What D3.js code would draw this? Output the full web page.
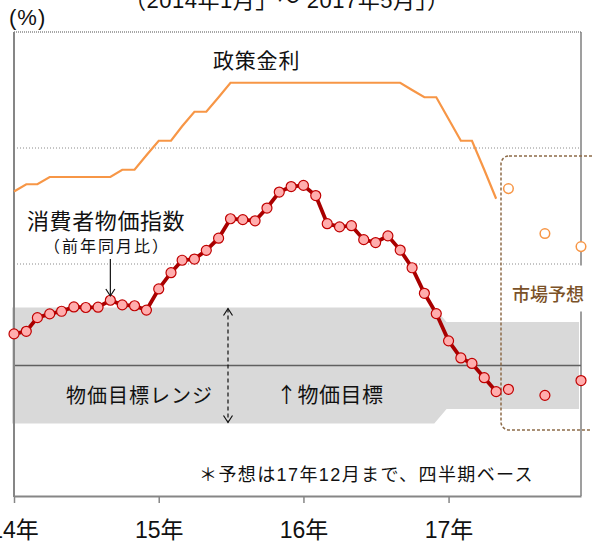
<!DOCTYPE html>
<html>
<head>
<meta charset="utf-8">
<script src="https://cdn.jsdelivr.net/npm/d3@7"></script>
<style>
  body { margin: 0; background: #fff; }
  text { font-family: "Liberation Sans", "Noto Sans CJK JP", sans-serif; fill: #111; }
</style>
</head>
<body>
<svg id="chart" width="592" height="544"></svg>
<script>
// DATA (monthly, 2014-01 .. 2017-05)
const startMonth = new Date(2014, 0, 1);
const cpiValues = [
  5.59, 5.68, 6.15, 6.28, 6.37, 6.52, 6.50, 6.51, 6.75, 6.59, 6.56, 6.41,
  7.14, 7.70, 8.13, 8.17, 8.47, 8.89, 9.56, 9.53, 9.49, 9.93, 10.48, 10.67,
  10.71, 10.36, 9.39, 9.28, 9.32, 8.84, 8.74, 8.97, 8.48, 7.87, 6.99, 6.29,
  5.35, 4.76, 4.57, 4.08, 3.60
];
const rateValues = [
  10.5, 10.75, 10.75, 11.0, 11.0, 11.0, 11.0, 11.0, 11.0, 11.25, 11.25, 11.75,
  12.25, 12.25, 12.75, 13.25, 13.25, 13.75, 14.25, 14.25, 14.25, 14.25, 14.25, 14.25,
  14.25, 14.25, 14.25, 14.25, 14.25, 14.25, 14.25, 14.25, 14.25, 14.0, 13.75, 13.75,
  13.0, 12.25, 12.25, 11.25, 10.25
];
// market forecasts (quarterly, to 2017-12)
const forecastMonths = [new Date(2017, 5, 1), new Date(2017, 8, 1), new Date(2017, 11, 1)];
const cpiForecast = [3.68, 3.47, 3.98];
const rateForecast = [10.6, 9.05, 8.6];
// inflation target and tolerance range
const targetValue = 4.5;
const bandDates = [new Date(2014, 0, 1), new Date(2016, 11, 1), new Date(2017, 0, 1), new Date(2017, 11, 1)];
const bandLow = [2.5, 2.5, 3.0, 3.0];
const bandHigh = [6.5, 6.5, 6.0, 6.0];
const yearTicks = [new Date(2014, 0, 1), new Date(2015, 0, 1), new Date(2016, 0, 1), new Date(2017, 0, 1)];
const yearLabels = ["14年", "15年", "16年", "17年"];
const gridValues = [8, 12];

const months = cpiValues.map((d, i) => d3.timeMonth.offset(startMonth, i));

// SCALES
const svg = d3.select("#chart");
const x = d3.scaleTime()
  .domain([new Date(2014, 0, 1), new Date(2017, 11, 1)])
  .range([14, 581]);
const y = d3.scaleLinear().domain([0, 16]).range([496, 32]);

// GRID
svg.selectAll("line.grid")
  .data(gridValues)
  .enter().append("line")
    .attr("class", "grid")
    .attr("x1", 14).attr("x2", 581)
    .attr("y1", d => y(d)).attr("y2", d => y(d))
    .attr("stroke", "#8a8a8a")
    .attr("stroke-width", 1)
    .attr("stroke-dasharray", "1,2");
svg.append("line")
  .attr("x1", 14).attr("x2", 581)
  .attr("y1", y(16)).attr("y2", y(16))
  .attr("stroke", "#8a8a8a").attr("stroke-width", 1.5)
  .attr("stroke-dasharray", "1,1");
svg.append("line")
  .attr("x1", 581).attr("x2", 581)
  .attr("y1", y(16)).attr("y2", y(0))
  .attr("stroke", "#7f7f7f").attr("stroke-width", 1.5);

// TARGET BAND
const bandData = bandDates.map((d, i) => ({date: d, lo: bandLow[i], hi: bandHigh[i]}));
svg.append("path")
  .datum(bandData)
  .attr("d", d3.area().x(d => x(d.date)).y0(d => y(d.lo)).y1(d => y(d.hi)))
  .attr("transform", "translate(-2,0)")
  .attr("fill", "#d9d9d9");
svg.append("line")
  .attr("x1", 14).attr("x2", 581)
  .attr("y1", y(targetValue)).attr("y2", y(targetValue))
  .attr("stroke", "#606060").attr("stroke-width", 1.5);

// white box behind forecast label
svg.append("rect")
  .attr("x", 508).attr("y", y(8) + 1.5)
  .attr("width", 84).attr("height", 46)
  .attr("fill", "#fff");

// forecast box
svg.append("rect")
  .attr("x", 501).attr("y", 156)
  .attr("width", 130).attr("height", 274)
  .attr("rx", 8)
  .attr("fill", "none")
  .attr("stroke", "#8d6b48")
  .attr("stroke-width", 1.5)
  .attr("stroke-dasharray", "3,2");

// AXES
const xAxis = svg.append("g")
  .attr("transform", `translate(0,${y(0)})`)
  .call(d3.axisBottom(x).tickValues(yearTicks).tickSize(7).tickSizeOuter(0).tickFormat((d, i) => yearLabels[i]));
xAxis.select(".domain").attr("stroke", "#868686").attr("stroke-width", 2);
xAxis.selectAll(".tick line").attr("stroke", "#868686").attr("stroke-width", 1.5);
xAxis.selectAll(".tick text")
  .attr("y", 42)
  .attr("dy", 0)
  .attr("font-size", 23)
  .attr("font-family", "\"Liberation Sans\", \"Noto Sans CJK JP\", sans-serif")
  .attr("fill", "#111");
svg.append("line")
  .attr("x1", 14).attr("x2", 14)
  .attr("y1", y(16)).attr("y2", y(0) + 1)
  .attr("stroke", "#868686").attr("stroke-width", 2);

// POLICY RATE
svg.append("path")
  .datum(rateValues)
  .attr("d", d3.line().x((d, i) => x(months[i])).y(d => y(d)))
  .attr("fill", "none")
  .attr("stroke", "#f79646")
  .attr("stroke-width", 2.2);
svg.selectAll("circle.rf")
  .data(rateForecast)
  .enter().append("circle")
    .attr("class", "rf")
    .attr("cx", (d, i) => x(forecastMonths[i]))
    .attr("cy", d => y(d))
    .attr("r", 4.8)
    .attr("fill", "#fff")
    .attr("stroke", "#f79646")
    .attr("stroke-width", 1.5);

// CPI
svg.append("path")
  .datum(cpiValues)
  .attr("d", d3.line().x((d, i) => x(months[i])).y(d => y(d)))
  .attr("fill", "none")
  .attr("stroke", "#a80000")
  .attr("stroke-width", 3.8);
svg.selectAll("circle.cpi")
  .data(cpiValues)
  .enter().append("circle")
    .attr("class", "cpi")
    .attr("cx", (d, i) => x(months[i]))
    .attr("cy", d => y(d))
    .attr("r", 5)
    .attr("fill", "#ffadad")
    .attr("stroke", "#c00000")
    .attr("stroke-width", 1.2);
svg.selectAll("circle.cf")
  .data(cpiForecast)
  .enter().append("circle")
    .attr("class", "cf")
    .attr("cx", (d, i) => x(forecastMonths[i]))
    .attr("cy", d => y(d))
    .attr("r", 5)
    .attr("fill", "#ffadad")
    .attr("stroke", "#c00000")
    .attr("stroke-width", 1.2);

// ANNOTATION ARROWS
function arrowHead(px, py, dir) {
  svg.append("path")
    .attr("d", `M${px - 4.5},${py - 7 * dir} L${px},${py} L${px + 4.5},${py - 7 * dir}`)
    .attr("fill", "none").attr("stroke", "#111").attr("stroke-width", 1.2);
}
const arrowX = x(months[8]);
svg.append("line")
  .attr("x1", arrowX).attr("x2", arrowX)
  .attr("y1", 259).attr("y2", 296)
  .attr("stroke", "#111").attr("stroke-width", 1.2);
arrowHead(arrowX, 296, 1);

svg.append("line")
  .attr("x1", 228).attr("x2", 228)
  .attr("y1", y(6.5) + 1).attr("y2", y(2.5) - 1)
  .attr("stroke", "#111").attr("stroke-width", 1.2)
  .attr("stroke-dasharray", "4,3");
arrowHead(228, y(6.5) + 1, -1);
arrowHead(228, y(2.5) - 1, 1);

// TEXTS
svg.append("text").attr("x", 124).attr("y", 8)
  .attr("font-size", 22).attr("letter-spacing", 0.5).text("（2014年1月」～ 2017年5月」）");
svg.append("text").attr("x", 9).attr("y", 25)
  .attr("font-size", 22).attr("letter-spacing", 1).text("(%)");
svg.append("text").attr("x", 213).attr("y", 68)
  .attr("font-size", 21).attr("letter-spacing", 0.8).text("政策金利");
svg.append("text").attr("x", 27).attr("y", 228.5)
  .attr("font-size", 22).attr("letter-spacing", 0.6).text("消費者物価指数");
svg.append("text").attr("x", 44).attr("y", 252)
  .attr("font-size", 16).attr("letter-spacing", 2).text("（前年同月比）");
svg.append("text").attr("x", 66).attr("y", 403)
  .attr("font-size", 20).attr("letter-spacing", 1).text("物価目標レンジ");
svg.append("text").attr("x", 276).attr("y", 402)
  .attr("font-size", 21).attr("letter-spacing", 0.5)
  .style("font-family", "\"Noto Sans CJK JP\", sans-serif").text("↑物価目標");
svg.append("text").attr("x", 199).attr("y", 481)
  .attr("font-size", 18).attr("letter-spacing", 1.4).text("＊予想は17年12月まで、四半期ベース");
svg.append("text").attr("x", 512).attr("y", 301)
  .attr("font-size", 18).attr("font-weight", 500)
  .style("fill", "#7b5229").text("市場予想");
</script>
</body>
</html>
